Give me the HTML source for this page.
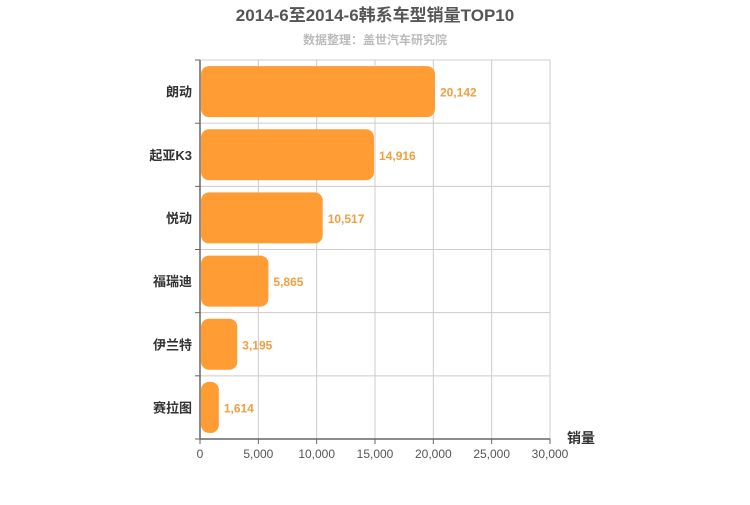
<!DOCTYPE html>
<html><head><meta charset="utf-8"><style>
body{margin:0;background:#fff;}
svg text{font-family:"Liberation Sans","Noto Sans CJK SC",sans-serif;}
</style></head><body>
<svg id="chart" width="750" height="500" xmlns="http://www.w3.org/2000/svg">
<text x="375" y="21" text-anchor="middle" font-size="17" font-weight="bold" fill="#555">2014-6至2014-6韩系车型销量TOP10</text>
<text x="375" y="44" text-anchor="middle" font-size="12" font-weight="bold" fill="#bbb">数据整理：盖世汽车研究院</text>
<g id="grid"></g><g id="bars"></g><g id="axes"></g>
<text x="567" y="443" font-size="14" font-weight="bold" fill="#333">销量</text>
</svg>
<script>
const categories=["朗动","起亚K3","悦动","福瑞迪","伊兰特","赛拉图"];
const values=[20142,14916,10517,5865,3195,1614];
const xTicks=[0,5000,10000,15000,20000,25000,30000];
const NS="http://www.w3.org/2000/svg";
const L=200,R=550,T=60,B=439,xMax=30000;
const x=v=>L+(R-L)*v/xMax;
const band=(B-T)/categories.length;
function mk(tag,attrs,parent,txt){const e=document.createElementNS(NS,tag);for(const k in attrs)e.setAttribute(k,attrs[k]);if(txt!==undefined)e.textContent=txt;document.getElementById(parent).appendChild(e);return e;}
xTicks.forEach(t=>{
 if(t>0){const g=mk('line',{x1:x(t),x2:x(t),y1:T,y2:B,stroke:'#ccc','stroke-width':1},'grid');
 
 }
 const tk=mk('line',{x1:x(t),x2:x(t),y1:B,y2:B+5,stroke:'#666'},'axes');
 
 
 const lb=mk('text',{x:x(t),y:B+19,'text-anchor':'middle','font-size':12,fill:'#555'},'axes',t.toLocaleString('en-US'));
 
 
});
for(let i=0;i<=categories.length;i++){
 const y=T+band*i;
 if(i<categories.length){const g=mk('line',{x1:L,x2:R,y1:y,y2:y,stroke:'#ccc'},'grid');
 
 }
 const tk=mk('line',{x1:L-5,x2:L,y1:y,y2:y,stroke:'#666'},'axes');
 
 
}
categories.forEach((c,i)=>{
 const yc=T+band*(i+0.5);
 const r=mk('rect',{x:L+1,y:yc-25.5,width:Math.max(0,x(values[i])-L-1),height:51,rx:8,ry:8,fill:'#ff9c33'},'bars');
 
 
 const v=mk('text',{x:x(values[i])+5,y:yc+5,'font-size':12,'font-weight':'bold',fill:'#f0a040'},'bars',values[i].toLocaleString('en-US'));
 
 
 const cl=mk('text',{x:L-8,y:yc+5,'text-anchor':'end','font-size':13,'font-weight':'bold',fill:'#333'},'axes',c);
 
 
});
const ax=mk('line',{x1:L,x2:R,y1:B,y2:B,stroke:'#666','stroke-width':1.5},'axes');


const ay=mk('line',{x1:L,x2:L,y1:T,y2:B,stroke:'#666','stroke-width':1.5},'axes');


</script>
</body></html>
